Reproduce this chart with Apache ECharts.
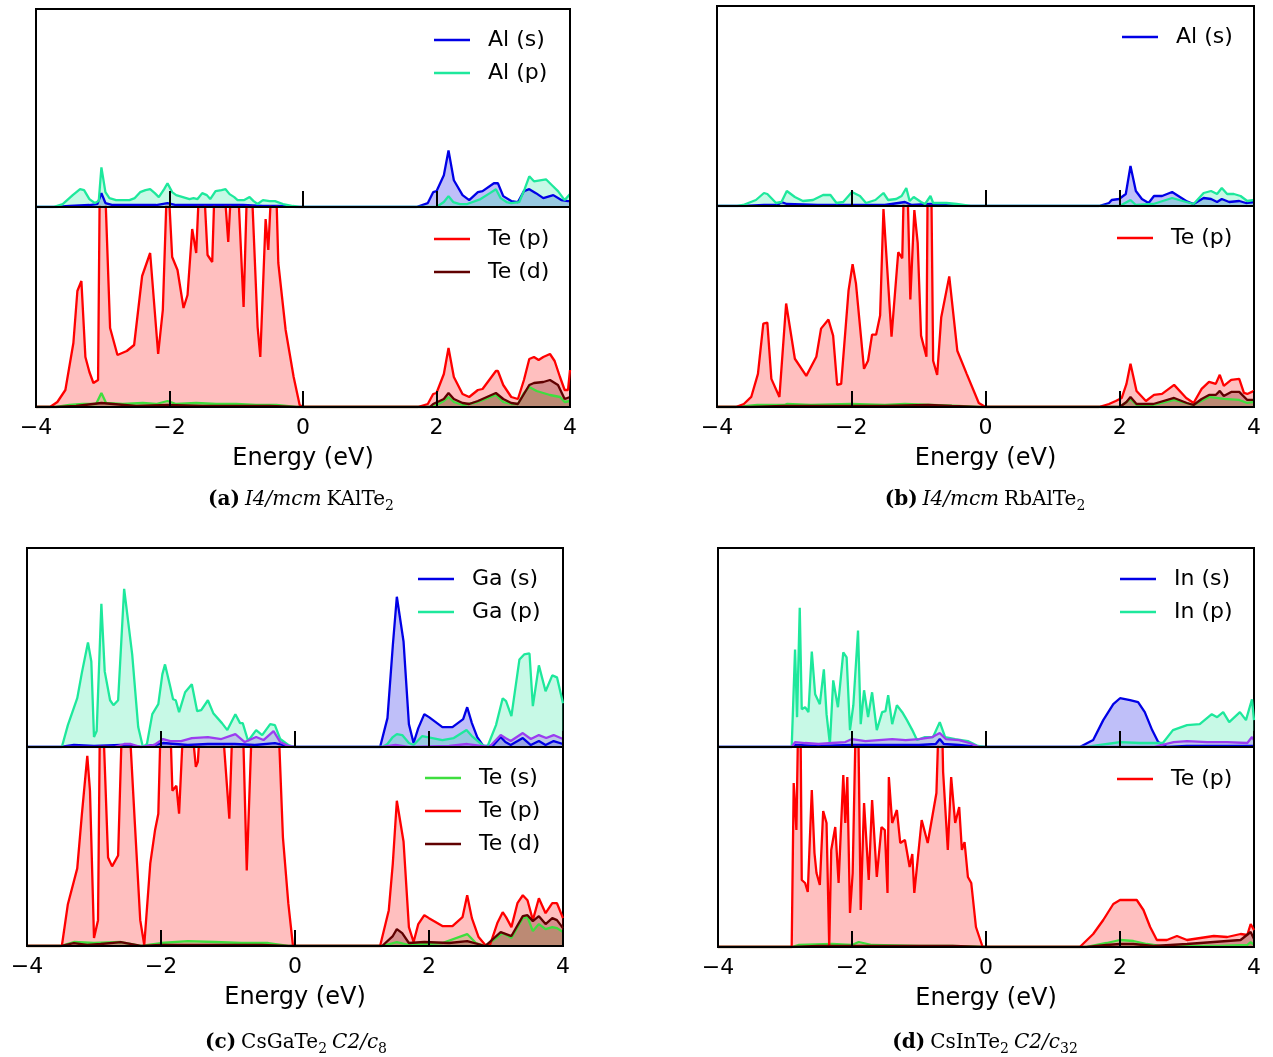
<!DOCTYPE html>
<html>
<head>
<meta charset="utf-8">
<script src="https://cdn.jsdelivr.net/npm/echarts@6/dist/echarts.min.js"></script>
<style>
html,body{margin:0;padding:0;background:#fff;}
#chart{width:1273px;height:1057px;}
</style>
</head>
<body>
<div id="chart"></div>
<script>
// ---------- DATA: [energy (eV), DOS (arb. units)] ----------
// Panel (a) I4/mcm KAlTe2
const a_Al_s = [[-4,0],[-3.7,0],[-3.5,1],[-3.2,2],[-3.08,3],[-3.02,14],[-2.96,4],[-2.85,2],[-2.5,2],[-2.2,2],[-2.03,4],[-1.9,2],[-1.5,2],[-1.2,2],[-0.9,2],[-0.6,1],[-0.3,1],[-0.1,0],[1.7,0],[1.87,4],[1.95,15],[2.0,16],[2.11,32],[2.18,57],[2.26,27],[2.39,12],[2.49,7],[2.62,15],[2.69,16],[2.86,24],[2.92,24],[3.0,11],[3.12,6],[3.22,5],[3.31,16],[3.39,18],[3.49,14],[3.6,9],[3.75,12],[3.87,7],[3.97,6],[4,6]];
const a_Al_p = [[-4,0],[-3.74,0],[-3.6,3],[-3.45,12],[-3.34,18],[-3.28,17],[-3.2,8],[-3.12,4],[-3.06,6],[-3.02,40],[-2.96,15],[-2.9,9],[-2.8,7],[-2.6,7],[-2.52,9],[-2.44,15],[-2.36,17],[-2.29,18],[-2.22,14],[-2.16,10],[-2.08,18],[-2.03,24],[-1.96,15],[-1.9,12],[-1.8,10],[-1.7,8],[-1.64,9],[-1.58,8],[-1.51,14],[-1.44,12],[-1.39,8],[-1.31,16],[-1.22,17],[-1.16,18],[-1.1,13],[-1.03,10],[-0.98,7],[-0.88,7],[-0.8,10],[-0.74,6],[-0.68,3],[-0.6,7],[-0.5,6],[-0.42,6],[-0.3,3],[-0.15,1],[-0.05,0],[2.0,0],[2.11,5],[2.18,11],[2.25,5],[2.35,3],[2.46,3],[2.66,8],[2.8,14],[2.89,18],[2.96,9],[3.05,5],[3.12,4],[3.24,5],[3.32,18],[3.39,31],[3.46,26],[3.55,27],[3.64,28],[3.73,22],[3.82,16],[3.92,7],[4,13]];
const a_Te_s = [[-4,0],[-3.7,0],[-3.5,2],[-3.3,3],[-3.1,3],[-3.02,14],[-2.95,4],[-2.7,3],[-2.4,4],[-2.2,3],[-2.03,6],[-1.9,3],[-1.6,4],[-1.3,3],[-1.0,3],[-0.7,2],[-0.4,2],[-0.1,0],[1.9,0],[2.0,2],[2.11,6],[2.18,10],[2.26,5],[2.4,2],[2.62,5],[2.89,12],[3.0,5],[3.12,3],[3.22,3],[3.31,14],[3.39,20],[3.5,16],[3.6,14],[3.7,12],[3.85,10],[3.92,5],[4,6]];
const a_Te_p = [[-4,0],[-3.79,0],[-3.68,5],[-3.56,17],[-3.44,64],[-3.38,116],[-3.32,126],[-3.26,50],[-3.2,35],[-3.14,24],[-3.07,27],[-3.04,260],[-2.98,250],[-2.89,79],[-2.78,52],[-2.64,56],[-2.53,62],[-2.41,131],[-2.29,154],[-2.17,53],[-2.1,97],[-2.03,240],[-1.96,150],[-1.88,137],[-1.79,99],[-1.73,112],[-1.66,178],[-1.6,154],[-1.55,230],[-1.49,230],[-1.43,152],[-1.36,145],[-1.32,230],[-1.2,240],[-1.12,165],[-1.06,240],[-0.98,230],[-0.89,100],[-0.83,240],[-0.78,240],[-0.68,80],[-0.64,50],[-0.56,188],[-0.52,157],[-0.46,240],[-0.41,240],[-0.37,144],[-0.26,77],[-0.14,30],[-0.05,2],[0,0],[1.72,0],[1.87,3],[1.95,13],[2.0,14],[2.11,33],[2.18,59],[2.26,30],[2.39,13],[2.49,10],[2.62,17],[2.69,18],[2.89,36],[2.92,36],[3.0,22],[3.12,10],[3.22,8],[3.31,27],[3.39,48],[3.46,50],[3.53,47],[3.6,50],[3.7,53],[3.77,46],[3.85,30],[3.92,17],[3.97,17],[4,37]];
const a_Te_d = [[-4,0],[-3.7,0],[-3.4,1],[-3.02,4],[-2.5,1],[-2.03,2],[-1.5,1],[-1.0,1],[-0.5,1],[-0.1,0],[1.9,0],[1.95,3],[2.11,8],[2.18,14],[2.26,8],[2.39,4],[2.49,3],[2.62,6],[2.89,14],[3.0,8],[3.12,4],[3.22,3],[3.31,13],[3.39,22],[3.46,24],[3.6,25],[3.7,27],[3.82,22],[3.92,8],[4,10]];

// Panel (b) I4/mcm RbAlTe2
const b_Al_s = [[-4,0],[-3.6,0],[-3.3,1],[-3.1,1],[-3.04,4],[-2.96,2],[-2.5,1],[-2.0,1],[-1.5,1],[-1.2,4],[-1.1,1],[-0.82,2],[-0.7,1],[-0.3,0],[1.69,0],[1.84,3],[1.88,6],[1.99,7],[2.09,12],[2.16,40],[2.24,15],[2.33,7],[2.43,3],[2.51,10],[2.63,10],[2.78,14],[2.85,11],[2.99,5],[3.1,2],[3.25,8],[3.36,7],[3.45,4],[3.52,7],[3.63,4],[3.78,5],[3.88,3],[4,4]];
const b_Al_p = [[-4,0],[-3.7,0],[-3.61,1],[-3.42,6],[-3.3,13],[-3.25,12],[-3.12,3],[-3.04,4],[-2.96,15],[-2.84,9],[-2.72,5],[-2.57,6],[-2.42,11],[-2.31,11],[-2.22,3],[-2.12,4],[-1.99,14],[-1.87,10],[-1.78,3],[-1.64,6],[-1.52,13],[-1.45,6],[-1.33,7],[-1.25,10],[-1.18,18],[-1.13,5],[-1.07,9],[-0.96,4],[-0.9,2],[-0.82,10],[-0.78,3],[-0.58,3],[-0.43,2],[-0.22,0],[2.0,0],[2.16,6],[2.24,1],[2.5,2],[2.78,8],[2.99,4],[3.1,2],[3.25,13],[3.36,15],[3.45,12],[3.52,18],[3.6,12],[3.7,12],[3.8,10],[3.9,5],[4,6]];
const b_Te_s = [[-4,0],[-3.7,0],[-3.4,2],[-3.0,2],[-2.96,3],[-2.6,2],[-2.0,3],[-1.5,2],[-1.2,3],[-0.8,2],[-0.4,1],[-0.1,0],[2.0,0],[2.16,8],[2.25,2],[2.5,2],[2.81,7],[3.1,2],[3.33,10],[3.55,8],[3.78,7],[3.9,4],[4,5]];
const b_Te_p = [[-4,0],[-3.72,0],[-3.6,3],[-3.49,10],[-3.39,33],[-3.31,83],[-3.25,84],[-3.19,28],[-3.07,10],[-2.97,103],[-2.84,48],[-2.67,31],[-2.52,50],[-2.45,78],[-2.34,87],[-2.27,71],[-2.21,22],[-2.15,23],[-2.04,116],[-1.98,142],[-1.93,123],[-1.81,38],[-1.75,46],[-1.69,72],[-1.63,72],[-1.57,91],[-1.52,197],[-1.4,70],[-1.3,154],[-1.24,148],[-1.21,240],[-1.17,240],[-1.12,107],[-1.06,196],[-1.01,163],[-0.96,71],[-0.88,50],[-0.86,240],[-0.81,240],[-0.78,46],[-0.72,32],[-0.66,89],[-0.54,130],[-0.42,56],[-0.28,33],[-0.1,4],[0,0],[1.69,0],[1.84,3],[1.94,6],[2.03,9],[2.1,23],[2.16,43],[2.25,16],[2.39,6],[2.51,12],[2.63,13],[2.81,22],[2.99,9],[3.1,4],[3.22,18],[3.33,25],[3.43,23],[3.49,32],[3.55,21],[3.66,27],[3.78,28],[3.85,14],[3.9,13],[4,16]];
const b_Te_d = [[-4,0],[-3.5,0],[-3.0,1],[-2.5,1],[-2.0,1],[-1.5,1],[-0.85,2],[-0.5,1],[-0.1,0],[2.0,0],[2.1,5],[2.16,10],[2.25,3],[2.5,3],[2.81,9],[3.0,4],[3.1,2],[3.22,8],[3.33,12],[3.43,12],[3.49,16],[3.55,11],[3.66,15],[3.78,15],[3.9,7],[4,7]];

// Panel (c) CsGaTe2 C2/c8
const c_Ga_s = [[-4,0],[-3.5,0],[-3.3,2],[-3.0,1],[-2.6,2],[-2.3,0],[-2.1,2],[-1.97,4],[-1.6,2],[-1.3,3],[-0.9,3],[-0.6,2],[-0.3,4],[-0.1,1],[0,0],[1.27,0],[1.38,29],[1.46,102],[1.52,151],[1.62,106],[1.7,23],[1.77,4],[1.84,19],[1.93,33],[2.0,30],[2.2,20],[2.35,20],[2.51,28],[2.57,40],[2.64,24],[2.72,10],[2.81,1],[2.95,1],[3.07,10],[3.14,5],[3.22,2],[3.4,9],[3.52,2],[3.64,6],[3.74,2],[3.86,6],[4,3]];
const c_Ga_p = [[-4,0],[-3.48,0],[-3.39,22],[-3.25,49],[-3.18,75],[-3.09,105],[-3.04,86],[-3.0,10],[-2.96,16],[-2.89,144],[-2.84,76],[-2.76,47],[-2.71,42],[-2.64,47],[-2.55,159],[-2.43,93],[-2.34,20],[-2.27,0],[-2.21,3],[-2.13,33],[-2.04,43],[-1.98,73],[-1.94,83],[-1.86,60],[-1.82,48],[-1.78,47],[-1.73,35],[-1.64,55],[-1.54,63],[-1.46,36],[-1.4,37],[-1.3,47],[-1.22,34],[-1.09,24],[-1.01,17],[-0.89,33],[-0.82,24],[-0.78,24],[-0.7,6],[-0.58,17],[-0.49,12],[-0.37,23],[-0.3,22],[-0.22,8],[-0.1,2],[0,0],[1.3,0],[1.38,3],[1.46,10],[1.52,13],[1.6,12],[1.7,4],[1.77,2],[1.9,11],[2.2,7],[2.37,9],[2.56,17],[2.64,11],[2.8,2],[2.87,0],[3.0,22],[3.1,49],[3.15,46],[3.23,31],[3.35,88],[3.42,93],[3.5,94],[3.55,41],[3.64,82],[3.74,56],[3.84,72],[3.91,70],[4,44]];
const c_Cs = [[-4,0],[-2.7,0],[-2.55,3],[-2.45,3],[-2.3,0],[-2.1,2],[-1.97,8],[-1.86,6],[-1.7,6],[-1.54,9],[-1.3,10],[-1.1,8],[-0.89,13],[-0.75,5],[-0.58,10],[-0.47,7],[-0.32,16],[-0.22,5],[-0.1,1],[0,0],[1.3,0],[1.5,2],[1.7,0],[2.3,1],[2.57,3],[2.9,0],[3.07,12],[3.14,9],[3.22,6],[3.4,14],[3.52,8],[3.64,12],[3.75,9],[3.86,12],[4,8]];
const c_Te_s = [[-4,0],[-3.5,0],[-3.3,4],[-3.0,3],[-2.6,4],[-2.3,0],[-2.0,3],[-1.6,5],[-1.2,4],[-0.8,3],[-0.4,3],[-0.1,0],[1.3,0],[1.52,4],[1.7,1],[2.2,3],[2.57,12],[2.7,3],[2.84,0],[3.1,13],[3.23,8],[3.4,28],[3.47,29],[3.55,15],[3.64,22],[3.74,17],[3.84,19],[3.91,18],[4,14]];
const c_Te_p = [[-4,0],[-3.48,0],[-3.39,42],[-3.25,78],[-3.18,133],[-3.1,191],[-3.06,156],[-3.0,8],[-2.94,26],[-2.91,240],[-2.86,220],[-2.79,89],[-2.73,80],[-2.64,91],[-2.58,230],[-2.46,210],[-2.39,123],[-2.31,26],[-2.25,1],[-2.16,83],[-2.09,116],[-2.04,133],[-2.01,210],[-1.86,220],[-1.83,156],[-1.77,161],[-1.73,133],[-1.67,220],[-1.55,230],[-1.48,180],[-1.45,185],[-1.41,230],[-1.09,230],[-0.98,128],[-0.93,230],[-0.78,230],[-0.72,76],[-0.64,230],[-0.25,230],[-0.18,109],[-0.1,43],[-0.03,0],[1.27,0],[1.4,36],[1.46,83],[1.52,146],[1.62,105],[1.7,19],[1.77,4],[1.84,22],[1.93,31],[2.0,28],[2.2,20],[2.35,20],[2.5,29],[2.57,51],[2.64,28],[2.74,9],[2.84,1],[2.91,1],[3.02,23],[3.1,34],[3.15,29],[3.23,19],[3.32,43],[3.4,51],[3.47,46],[3.55,26],[3.64,48],[3.74,33],[3.84,43],[3.91,43],[4,28]];
const c_Te_d = [[-4,0],[-3.5,0],[-3.3,3],[-3.1,1],[-2.9,2],[-2.6,4],[-2.3,0],[-2.0,1],[-1.5,1],[-1.0,1],[-0.5,1],[-0.1,0],[1.3,0],[1.46,10],[1.52,17],[1.6,13],[1.7,3],[1.93,4],[2.3,3],[2.57,5],[2.84,0],[3.07,14],[3.23,10],[3.4,30],[3.47,31],[3.55,25],[3.64,30],[3.74,22],[3.84,28],[3.91,26],[4,18]];

// Panel (d) CsInTe2 C2/c32
const d_In_s = [[-4,0],[-2.9,0],[-2.85,2],[-2.5,1],[-2.0,2],[-1.5,2],[-1.0,2],[-0.75,3],[-0.69,8],[-0.63,3],[-0.4,2],[-0.1,0],[1.4,0],[1.6,7],[1.75,27],[1.9,43],[2.0,49],[2.15,47],[2.27,45],[2.37,35],[2.48,17],[2.57,5],[2.7,0],[3.0,1],[3.5,1],[4,1]];
const d_In_p = [[-4,0],[-2.9,0],[-2.85,98],[-2.82,30],[-2.78,140],[-2.75,38],[-2.7,40],[-2.65,35],[-2.6,96],[-2.55,53],[-2.48,43],[-2.42,78],[-2.38,33],[-2.33,3],[-2.28,67],[-2.21,40],[-2.13,95],[-2.08,90],[-2.03,17],[-1.98,42],[-1.91,117],[-1.87,23],[-1.82,57],[-1.76,30],[-1.7,55],[-1.63,17],[-1.55,35],[-1.5,36],[-1.46,52],[-1.4,23],[-1.33,42],[-1.25,35],[-1.18,27],[-1.1,17],[-1.03,7],[-0.91,10],[-0.79,10],[-0.69,25],[-0.61,10],[-0.46,8],[-0.27,6],[-0.12,1],[0,0],[1.5,0],[1.7,2],[2.0,5],[2.3,4],[2.64,4],[2.79,17],[3.0,22],[3.19,23],[3.37,33],[3.45,30],[3.54,35],[3.63,25],[3.79,35],[3.88,27],[3.97,48],[4,27]];
const d_Cs = [[-4,0],[-2.9,0],[-2.85,5],[-2.7,4],[-2.5,3],[-2.3,4],[-2.1,5],[-2.0,8],[-1.8,6],[-1.6,7],[-1.4,8],[-1.2,7],[-1.0,8],[-0.8,10],[-0.69,14],[-0.6,8],[-0.4,7],[-0.25,4],[-0.1,0],[2.5,0],[2.8,5],[3.0,6],[3.3,5],[3.6,5],[3.9,4],[3.97,10],[4,7]];
const d_Te_s = [[-4,0],[-2.9,0],[-2.8,2],[-2.3,3],[-2.0,2],[-1.9,5],[-1.7,2],[-1,1],[-0.5,1],[0,0],[1.5,0],[1.8,4],[2.0,7],[2.2,6],[2.4,3],[2.6,1],[3.0,1],[3.5,1],[3.9,2],[3.95,5],[4,2]];
const d_Te_p = [[-4,0],[-2.9,0],[-2.87,164],[-2.83,117],[-2.8,240],[-2.77,240],[-2.75,67],[-2.7,64],[-2.66,55],[-2.6,157],[-2.56,94],[-2.53,74],[-2.48,62],[-2.43,136],[-2.38,124],[-2.34,0],[-2.31,97],[-2.25,120],[-2.2,64],[-2.13,172],[-2.1,124],[-2.07,170],[-2.03,34],[-1.99,74],[-1.94,240],[-1.91,240],[-1.87,37],[-1.82,144],[-1.75,67],[-1.7,147],[-1.63,70],[-1.56,120],[-1.51,117],[-1.47,54],[-1.45,170],[-1.4,124],[-1.33,137],[-1.28,104],[-1.21,107],[-1.14,80],[-1.1,93],[-1.07,54],[-0.96,127],[-0.87,104],[-0.74,154],[-0.7,240],[-0.66,240],[-0.64,175],[-0.57,97],[-0.52,170],[-0.46,124],[-0.4,140],[-0.36,97],[-0.32,105],[-0.27,70],[-0.22,64],[-0.15,20],[-0.05,0],[1.4,0],[1.6,13],[1.75,27],[1.9,43],[2.0,47],[2.25,47],[2.35,37],[2.45,20],[2.55,7],[2.7,7],[2.85,11],[3.0,7],[3.2,9],[3.4,11],[3.6,10],[3.8,13],[3.9,12],[3.95,23],[4,17]];
const d_Te_d = [[-4,0],[-2.9,0],[-2.5,1],[-1.5,1],[-0.5,1],[0,0],[1.5,0],[1.8,2],[2.0,3],[2.2,3],[2.5,1],[3.0,3],[3.4,5],[3.8,7],[3.95,15],[4,8]];

const xTicks = [-4, -2, 0, 2, 4];
const captions = [
  '{b|(a)} {i|I4/mcm} {r|KAlTe}{s|2}',
  '{b|(b)} {i|I4/mcm} {r|RbAlTe}{s|2}',
  '{b|(c)} {r|CsGaTe}{s|2} {i|C2/c}{s|8}',
  '{b|(d)} {r|CsInTe}{s|2} {i|C2/c}{s|32}'
];

// ---------- LAYOUT ----------
const COL = {
  s: '#0000e6', p: '#1ee89c', cs: '#9b3df0',
  tes: '#3ede3e', tep: '#ff0000', ted: '#600000'
};
// grids: [left, top, width, height]
const grids = [
  [36, 9, 534, 198],   [36, 207, 534, 200],
  [717, 6, 537, 200],  [717, 206, 537, 201],
  [27, 548, 536, 199], [27, 747, 536, 199],
  [718, 548, 536, 199],[718, 747, 536, 200]
];
const seriesDefs = [
  // [gridIndex, name, data, color]
  [0, 'Al (s)', a_Al_s, COL.s], [0, 'Al (p)', a_Al_p, COL.p],
  [1, 'Te (s)', a_Te_s, COL.tes], [1, 'Te (p)', a_Te_p, COL.tep], [1, 'Te (d)', a_Te_d, COL.ted],
  [2, 'Al (s)', b_Al_s, COL.s], [2, 'Al (p)', b_Al_p, COL.p],
  [3, 'Te (s)', b_Te_s, COL.tes], [3, 'Te (p)', b_Te_p, COL.tep], [3, 'Te (d)', b_Te_d, COL.ted],
  [4, 'Ga (s)', c_Ga_s, COL.s], [4, 'Ga (p)', c_Ga_p, COL.p], [4, 'Cs', c_Cs, COL.cs],
  [5, 'Te (s)', c_Te_s, COL.tes], [5, 'Te (p)', c_Te_p, COL.tep], [5, 'Te (d)', c_Te_d, COL.ted],
  [6, 'In (s)', d_In_s, COL.s], [6, 'In (p)', d_In_p, COL.p], [6, 'Cs ', d_Cs, COL.cs],
  [7, 'Te (s)', d_Te_s, COL.tes], [7, 'Te (p)', d_Te_p, COL.tep], [7, 'Te (d)', d_Te_d, COL.ted]
];
const legendDefs = [
  [['Al (s)', 'Al (p)'], 434, 27],
  [['Te (p)', 'Te (d)'], 434, 226],
  [['Al (s)'], 1122, 24],
  [['Te (p)'], 1117, 225],
  [['Ga (s)', 'Ga (p)'], 418, 566],
  [['Te (s)', 'Te (p)', 'Te (d)'], 425, 765],
  [['In (s)', 'In (p)'], 1120, 566],
  [['Te (p)'], 1117, 766]
];
const captionPos = [[296, 482], [980, 482], [291, 1025], [980, 1025]];

const SANS = 'DejaVu Sans';
const SERIF = 'DejaVu Serif';

const option = {
  animation: false,
  backgroundColor: '#fff',
  grid: grids.map(g => ({
    left: g[0], top: g[1], width: g[2], height: g[3],
    show: true, borderColor: '#000', borderWidth: 2, backgroundColor: 'transparent', containLabel: false
  })),
  xAxis: grids.map((g, i) => {
    const bottom = i % 2 === 1;
    return {
      type: 'value', gridIndex: i, min: xTicks[0], max: xTicks[xTicks.length - 1], interval: 2,
      z: 10,
      axisLine: { show: true, onZero: false, lineStyle: { color: '#000', width: 2 } },
      axisTick: { show: true, inside: true, length: 16, lineStyle: { color: '#000', width: 2 } },
      splitLine: { show: false },
      axisLabel: {
        show: bottom, margin: 10, fontSize: 22, fontFamily: SANS, color: '#000',
        formatter: v => (v < 0 ? '\u2212' + Math.abs(v) : String(v))
      },
      name: bottom ? 'Energy (eV)' : '',
      nameLocation: 'middle', nameGap: 40,
      nameTextStyle: { fontSize: 24, fontFamily: SANS, color: '#000' }
    };
  }),
  yAxis: grids.map((g, i) => ({
    type: 'value', gridIndex: i, min: 0, max: 200,
    axisLine: { show: false }, axisTick: { show: false }, axisLabel: { show: false }, splitLine: { show: false }
  })),
  legend: legendDefs.map(l => ({
    data: l[0], left: l[1], top: l[2], orient: 'vertical', padding: 0,
    icon: 'rect', itemWidth: 36, itemHeight: 2.5, itemGap: 7,
    selectedMode: false,
    textStyle: { fontSize: 22, fontFamily: SANS, color: '#000', lineHeight: 26, padding: [0, 0, 0, 13] }
  })),
  title: captions.map((c, i) => ({
    text: c, left: captionPos[i][0], top: captionPos[i][1], textAlign: 'center',
    textStyle: {
      fontWeight: 'normal',
      rich: {
        b: { fontFamily: SERIF, fontWeight: 'bold', fontSize: 20, color: '#000' },
        i: { fontFamily: SERIF, fontStyle: 'italic', fontWeight: 'normal', fontSize: 20, color: '#000' },
        r: { fontFamily: SERIF, fontWeight: 'normal', fontSize: 20, color: '#000' },
        s: { fontFamily: SERIF, fontWeight: 'normal', fontSize: 14, color: '#000', padding: [12, 0, 0, 0] }
      }
    }
  })),
  series: seriesDefs.map(d => ({
    type: 'line', name: d[1], xAxisIndex: d[0], yAxisIndex: d[0],
    data: d[2], showSymbol: false, symbol: 'none', clip: true,
    lineStyle: { color: d[3], width: 2.3 },
    itemStyle: { color: d[3] },
    areaStyle: { color: d[3], opacity: 0.25 }
  }))
};

const chart = echarts.init(document.getElementById('chart'), null, { renderer: 'canvas' });
chart.setOption(option);
</script>
</body>
</html>
